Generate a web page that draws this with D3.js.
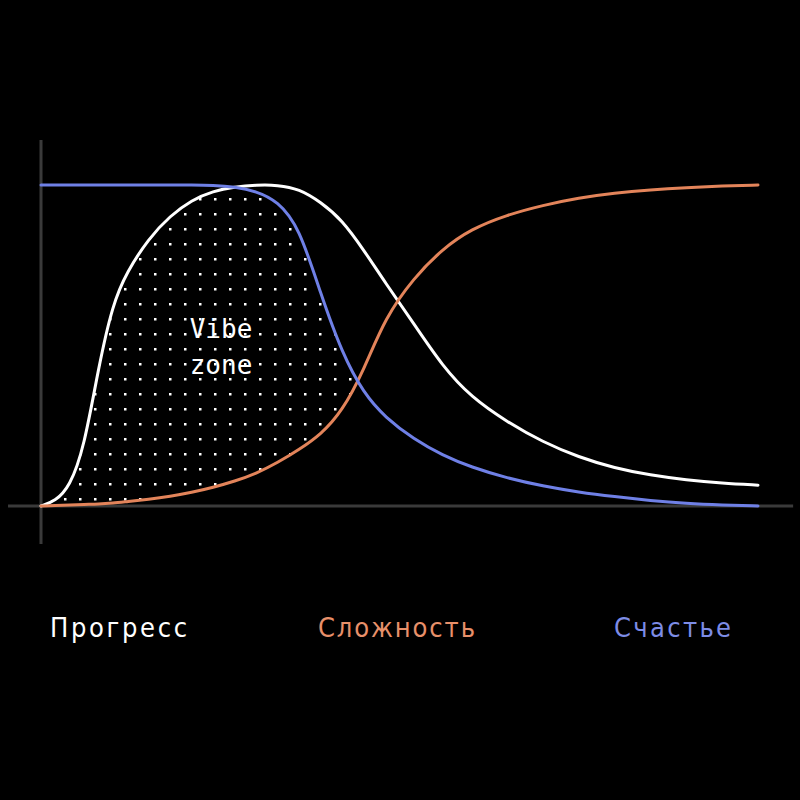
<!DOCTYPE html>
<html>
<head>
<meta charset="utf-8">
<script src="https://cdn.jsdelivr.net/npm/d3@7"></script>
<style>
  html, body { margin: 0; padding: 0; background: #000; }
  #chart { width: 800px; height: 800px; }
</style>
</head>
<body>
<div id="chart"></div>
<script>
// shared x positions (0 = y axis, 100 = right end of the curves)
const steps = [0, 2, 4, 6, 8, 10, 12, 15, 18, 21, 24, 27, 30, 33, 36, 39, 42, 45, 48, 52, 56, 60, 65, 70, 75, 80, 85, 90, 95, 100];

// values, 0 = baseline, 1 = top plateau
const progress = [0, 0.015, 0.06, 0.18, 0.43, 0.63, 0.73, 0.833, 0.904, 0.953, 0.981, 0.994, 1.0, 1.0, 0.988, 0.947, 0.891, 0.798, 0.696, 0.568, 0.435, 0.339, 0.262, 0.199, 0.152, 0.118, 0.096, 0.081, 0.071, 0.065];
const complexity = [0, 0.002, 0.003, 0.005, 0.006, 0.009, 0.014, 0.021, 0.030, 0.042, 0.058, 0.077, 0.101, 0.135, 0.176, 0.222, 0.295, 0.422, 0.587, 0.711, 0.801, 0.863, 0.907, 0.937, 0.960, 0.975, 0.985, 0.992, 0.997, 1.0];
const happiness = [1.0, 1.0, 1.0, 1.0, 1.0, 1.0, 1.0, 1.0, 1.0, 1.0, 0.999, 0.994, 0.981, 0.950, 0.870, 0.661, 0.475, 0.351, 0.276, 0.208, 0.158, 0.121, 0.087, 0.062, 0.043, 0.029, 0.017, 0.008, 0.003, 0];

const seriesNames = ["Прогресс", "Сложность", "Счастье"];
const zoneLabel = ["Vibe", "zone"];

const colors = { progress: "#ffffff", complexity: "#e3845a", happiness: "#6f80e6" };

const width = 800, height = 800;
const margin = { top: 185, right: 42, bottom: 293, left: 41 };

const svg = d3.select("#chart")
  .append("svg")
  .attr("width", width)
  .attr("height", height)
  .attr("viewBox", `0 0 ${width} ${height}`);

svg.append("rect").attr("width", width).attr("height", height).attr("fill", "#000");

const xScale = d3.scaleLinear()
  .domain([0, 100])
  .range([margin.left, width - margin.right]);

const yScale = d3.scaleLinear()
  .domain([0, 1])
  .range([height - margin.bottom - 1, margin.top]);

// axes: plain grey cross lines, running a bit past the plot
svg.append("line")
  .attr("x1", xScale(0)).attr("x2", xScale(0))
  .attr("y1", yScale(1.14)).attr("y2", yScale(-0.118))
  .attr("stroke", "#3a3a3a").attr("stroke-width", 3);

svg.append("line")
  .attr("x1", xScale(-4.6)).attr("x2", xScale(104.9))
  .attr("y1", yScale(0)).attr("y2", yScale(0))
  .attr("stroke", "#3a3a3a").attr("stroke-width", 3);

const toPoints = vals => steps.map((s, i) => ({ x: s, y: vals[i] }));
const curve = d3.curveBasis;

const line = d3.line()
  .x(d => xScale(d.x))
  .y(d => yScale(d.y))
  .curve(curve);

const areaBelow = d3.area()
  .x(d => xScale(d.x))
  .y0(yScale(-0.2))
  .y1(d => yScale(d.y))
  .curve(curve);

const areaAbove = d3.area()
  .x(d => xScale(d.x))
  .y0(yScale(1.3))
  .y1(d => yScale(d.y))
  .curve(curve);

// dotted "vibe zone": under progress, under happiness, above complexity
const defs = svg.append("defs");

const pattern = defs.append("pattern")
  .attr("id", "dots")
  .attr("patternUnits", "userSpaceOnUse")
  .attr("width", 15)
  .attr("height", 15);
pattern.append("rect")
  .attr("x", 4).attr("y", 3)
  .attr("width", 2.5).attr("height", 2.5)
  .attr("fill", "#ffffff");

defs.append("clipPath").attr("id", "clip-progress")
  .append("path").attr("d", areaBelow(toPoints(progress)));
defs.append("clipPath").attr("id", "clip-happiness")
  .append("path").attr("d", areaBelow(toPoints(happiness)));
defs.append("clipPath").attr("id", "clip-complexity")
  .append("path").attr("d", areaAbove(toPoints(complexity)));

svg.append("g")
  .attr("clip-path", "url(#clip-complexity)")
  .append("g")
  .attr("clip-path", "url(#clip-happiness)")
  .append("rect")
  .attr("clip-path", "url(#clip-progress)")
  .attr("x", xScale(0))
  .attr("y", yScale(1.1))
  .attr("width", xScale(100) - xScale(0))
  .attr("height", yScale(0) - yScale(1.1))
  .attr("fill", "url(#dots)");

// curves
[["progress", progress], ["complexity", complexity], ["happiness", happiness]].forEach(([key, vals]) => {
  svg.append("path")
    .datum(toPoints(vals))
    .attr("d", line)
    .attr("fill", "none")
    .attr("stroke", colors[key])
    .attr("stroke-width", 3)
    .attr("stroke-linecap", "round");
});

// label inside the zone
svg.append("g")
  .selectAll("text")
  .data(zoneLabel)
  .enter()
  .append("text")
  .attr("x", 221)
  .attr("y", (d, i) => 338 + i * 36)
  .attr("text-anchor", "middle")
  .attr("fill", "#ffffff")
  .attr("font-family", "'DejaVu Sans Mono', 'Liberation Mono', monospace")
  .attr("font-size", 26)
  .text(d => d);

// legend
const legendX = [50, 318, 614];
const legendW = [137, 157, 117];
const legendColors = [colors.progress, "#e8906a", "#7d8ce6"];

svg.append("g")
  .selectAll("text")
  .data(seriesNames)
  .enter()
  .append("text")
  .attr("x", (d, i) => legendX[i])
  .attr("y", 637)
  .attr("fill", (d, i) => legendColors[i])
  .attr("font-family", "'Liberation Sans Narrow', 'DejaVu Sans Condensed', 'DejaVu Sans', sans-serif")
  .attr("font-stretch", "condensed")
  .attr("font-size", 27)
  .attr("textLength", (d, i) => legendW[i])
  .attr("lengthAdjust", "spacing")
  .text(d => d);
</script>
</body>
</html>
